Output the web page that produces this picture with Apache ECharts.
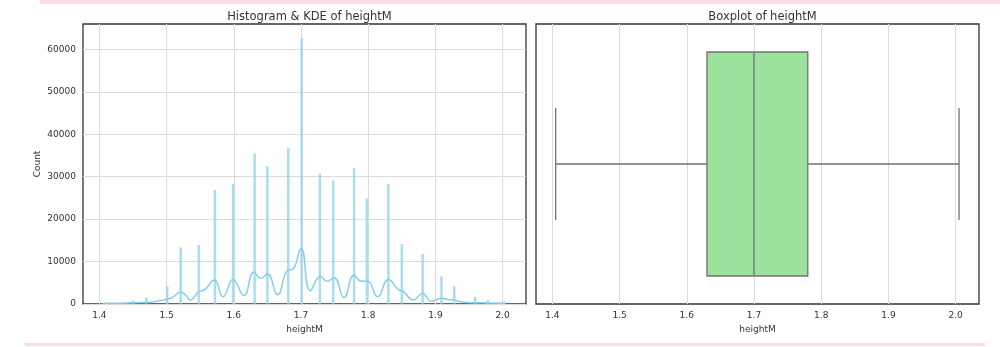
<!DOCTYPE html>
<html>
<head>
<meta charset="utf-8">
<script src="https://cdn.jsdelivr.net/npm/echarts@6/dist/echarts.min.js"></script>
<style>html,body{margin:0;padding:0;background:#fff;}#c{width:1000px;height:347px;}</style>
</head>
<body>
<div id="c"></div>
<script>
// ---- data ----
const histX = [1.406,1.420,1.450,1.470,1.501,1.521,1.548,1.572,1.599,1.631,1.650,1.681,1.701,1.728,1.748,1.779,1.798,1.830,1.850,1.881,1.909,1.928,1.959,1.978,2.003];
const histY = [200,300,800,1550,4250,13350,13900,26900,28300,35500,32450,36800,62700,30650,29150,32050,24900,28300,14150,11800,6450,4150,1700,950,600];
const kdeX = [1.406,1.43,1.45,1.475,1.49,1.501,1.51,1.521,1.529,1.535,1.548,1.557,1.571,1.584,1.599,1.615,1.630,1.640,1.650,1.665,1.680,1.688,1.700,1.714,1.729,1.739,1.749,1.764,1.779,1.789,1.799,1.814,1.830,1.845,1.852,1.867,1.881,1.894,1.909,1.921,1.928,1.941,1.958,1.978,2.003];
const kdeY = [150,200,300,400,800,1100,1700,2800,2000,950,2900,3400,5650,1700,5800,2000,7550,6050,7050,2200,7950,8250,13100,3150,6500,5350,6200,1550,6850,5400,5350,1700,5800,3400,3000,950,2500,630,1350,1000,950,400,300,250,150];
const boxStats = [1.405, 1.63, 1.70, 1.78, 2.005]; // min, q1, median, q3, max
const boxCategories = ['heightM'];
const xTicks = [1.4,1.5,1.6,1.7,1.8,1.9,2.0];
const yTicks = [0,10000,20000,30000,40000,50000,60000];
const titles = ['Histogram & KDE of heightM', 'Boxplot of heightM'];

const FONT = 'DejaVu Sans';
const gridColor = '#dcdcdc';
const textColor = '#333';

function xAxisDef(gridIndex) {
  return {
    type: 'value', gridIndex: gridIndex, min: 1.3757, max: 2.0347,
    name: 'heightM', nameLocation: 'middle', nameGap: 18,
    nameTextStyle: {fontFamily: FONT, fontSize: 9, color: textColor},
    axisLine: {show: false},
    axisTick: {show: false, customValues: xTicks},
    axisLabel: {customValues: xTicks, fontFamily: FONT, fontSize: 9, color: textColor, margin: 7,
      formatter: v => v.toFixed(1)},
    splitLine: {show: true, lineStyle: {color: gridColor, width: 1}}
  };
}

const chart = echarts.init(document.getElementById('c'), null, {renderer: 'canvas'});
chart.setOption({
  animation: false,
  backgroundColor: '#fff',
  title: [
    {text: titles[0], left: 304.5, top: 6, textAlign: 'center',
     textStyle: {fontFamily: FONT, fontSize: 11.5, fontWeight: 'normal', color: textColor}},
    {text: titles[1], left: 757.5, top: 6, textAlign: 'center',
     textStyle: {fontFamily: FONT, fontSize: 11.5, fontWeight: 'normal', color: textColor}}
  ],
  graphic: [
    {type: 'rect', shape: {x: 40, y: 0, width: 960, height: 4}, style: {fill: '#fcdbe3'}, silent: true},
    {type: 'rect', shape: {x: 25, y: 343, width: 960, height: 3}, style: {fill: '#fcdbe3'}, silent: true}
  ],
  grid: [
    {left: 83, top: 24, width: 443, height: 280, show: true, borderColor: '#333', borderWidth: 1.3, backgroundColor: 'transparent'},
    {left: 536, top: 24, width: 443, height: 280, show: true, borderColor: '#333', borderWidth: 1.3, backgroundColor: 'transparent'}
  ],
  xAxis: [xAxisDef(0), xAxisDef(1)],
  yAxis: [
    {type: 'value', gridIndex: 0, min: 0, max: 66000,
     name: 'Count', nameLocation: 'middle', nameGap: 41,
     nameTextStyle: {fontFamily: FONT, fontSize: 9, color: textColor},
     axisLine: {show: false},
     axisTick: {show: false, customValues: yTicks},
     axisLabel: {customValues: yTicks, fontFamily: FONT, fontSize: 9, color: textColor, margin: 7,
       formatter: v => String(Math.round(v))},
     splitLine: {show: true, lineStyle: {color: gridColor, width: 1}}},
    {type: 'category', gridIndex: 1, data: boxCategories,
     axisLine: {show: false}, axisTick: {show: false}, axisLabel: {show: false}, splitLine: {show: false}}
  ],
  series: [
    {type: 'bar', xAxisIndex: 0, yAxisIndex: 0, barWidth: 2.5,
     itemStyle: {color: 'rgba(135,206,235,0.7)'},
     data: histX.map((x, i) => [x, histY[i]]), z: 2},
    {type: 'line', xAxisIndex: 0, yAxisIndex: 0, smooth: 0.5, showSymbol: false, symbol: 'none',
     lineStyle: {color: '#87ceeb', width: 1.5},
     data: kdeX.map((x, i) => [x, kdeY[i]]), z: 3},
    {type: 'custom', xAxisIndex: 1, yAxisIndex: 1,
     data: [[0].concat(boxStats)],
     encode: {x: [1,2,3,4,5], y: 0},
     renderItem: function (params, api) {
       const cat = api.value(0);
       const band = api.size([0, 1])[1];
       const pMin = api.coord([api.value(1), cat]);
       const pQ1 = api.coord([api.value(2), cat]);
       const pMed = api.coord([api.value(3), cat]);
       const pQ3 = api.coord([api.value(4), cat]);
       const pMax = api.coord([api.value(5), cat]);
       const cy = pMed[1];
       const hb = band * 0.4, hc = band * 0.2;
       const stroke = '#727272', lw = 1.3;
       const ls = {stroke: stroke, lineWidth: lw, fill: null};
       return {type: 'group', children: [
         {type: 'line', shape: {x1: pMin[0], y1: cy, x2: pQ1[0], y2: cy}, style: ls},
         {type: 'line', shape: {x1: pQ3[0], y1: cy, x2: pMax[0], y2: cy}, style: ls},
         {type: 'line', shape: {x1: pMin[0], y1: cy - hc, x2: pMin[0], y2: cy + hc}, style: ls},
         {type: 'line', shape: {x1: pMax[0], y1: cy - hc, x2: pMax[0], y2: cy + hc}, style: ls},
         {type: 'rect', shape: {x: pQ1[0], y: cy - hb, width: pQ3[0] - pQ1[0], height: 2 * hb},
          style: {fill: '#9ce29c', stroke: stroke, lineWidth: lw}},
         {type: 'line', shape: {x1: pMed[0], y1: cy - hb, x2: pMed[0], y2: cy + hb}, style: ls}
       ]};
     }, z: 3}
  ]
});
</script>
</body>
</html>
